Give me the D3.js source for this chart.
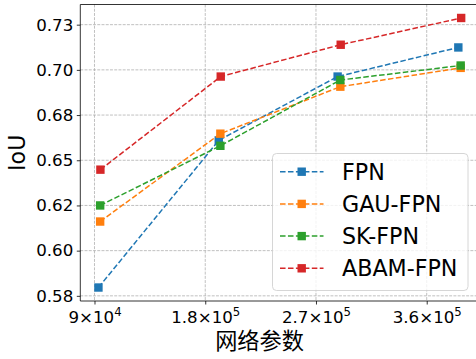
<!DOCTYPE html>
<html>
<head>
<meta charset="utf-8">
<script src="https://cdn.jsdelivr.net/npm/d3@7"></script>
<style>
  body { margin: 0; background: #fff; }
  svg { display: block; font-family: "DejaVu Sans", sans-serif; }
</style>
</head>
<body>
<div id="chart"></div>
<script>
// series names + colours (tab10)
const seriesNames = ['FPN', 'GAU-FPN', 'SK-FPN', 'ABAM-FPN'];
const seriesColors = ['#1f77b4', '#ff7f0e', '#2ca02c', '#d62728'];

// network parameters (x) per series
const fpnParams  = [93200, 191000, 287600, 385700];
const gauParams  = [94600, 192300, 289800, 387600];
const skParams   = [94600, 192300, 289800, 387600];
const abamParams = [94800, 192600, 290100, 388000];

// IoU (y) per series
const fpnIoU  = [0.5796, 0.6610, 0.6963, 0.7124];
const gauIoU  = [0.6161, 0.6647, 0.6907, 0.7011];
const skIoU   = [0.6250, 0.6580, 0.6944, 0.7024];
const abamIoU = [0.6448, 0.6963, 0.7139, 0.7287];

// ticks
const xTicks = [90000, 180000, 270000, 360000];
const yTicks = [0.575, 0.600, 0.625, 0.650, 0.675, 0.700, 0.725];
const yTickLabels = ['0.58', '0.60', '0.62', '0.65', '0.68', '0.70', '0.73'];

const xLabel = '网络参数';
const yLabel = 'IoU';

const W = 476, H = 359;
const margin = { top: 4.5, left: 80.3 };
const plotW = 399, plotH = 296.5;

const series = [
  { name: seriesNames[0], xs: fpnParams,  ys: fpnIoU },
  { name: seriesNames[1], xs: gauParams,  ys: gauIoU },
  { name: seriesNames[2], xs: skParams,   ys: skIoU },
  { name: seriesNames[3], xs: abamParams, ys: abamIoU }
].map((s, i) => ({ ...s, color: seriesColors[i], pts: s.xs.map((x, j) => [x, s.ys[j]]) }));

// matplotlib-like 5% padding
function padded(vals) {
  const [a, b] = d3.extent(vals);
  const p = (b - a) * 0.05;
  return [a - p, b + p];
}
const allX = series.flatMap(s => s.xs);
const allY = series.flatMap(s => s.ys);

const x = d3.scaleLinear().domain(padded(allX)).range([0, plotW]);
const y = d3.scaleLinear().domain(padded(allY)).range([plotH, 0]);

const svg = d3.select('#chart').append('svg')
  .attr('width', W).attr('height', H);

const g = svg.append('g')
  .attr('transform', `translate(${margin.left},${margin.top})`);

// grid
g.append('g').selectAll('line.gx').data(xTicks).enter().append('line')
  .attr('x1', d => x(d)).attr('x2', d => x(d))
  .attr('y1', 0).attr('y2', plotH)
  .attr('stroke', '#b0b0b0').attr('stroke-width', 0.8)
  .attr('stroke-dasharray', '2.96,1.28');
g.append('g').selectAll('line.gy').data(yTicks).enter().append('line')
  .attr('y1', d => y(d)).attr('y2', d => y(d))
  .attr('x1', 0).attr('x2', plotW)
  .attr('stroke', '#b0b0b0').attr('stroke-width', 0.8)
  .attr('stroke-dasharray', '2.96,1.28');

// series lines + markers
const line = d3.line().x(d => x(d[0])).y(d => y(d[1]));
series.forEach(s => {
  g.append('path')
    .attr('d', line(s.pts))
    .attr('fill', 'none')
    .attr('stroke', s.color)
    .attr('stroke-width', 1.5)
    .attr('stroke-dasharray', '5.55,2.4');
  g.selectAll(null).data(s.pts).enter().append('rect')
    .attr('x', d => x(d[0]) - 4.2)
    .attr('y', d => y(d[1]) - 4.2)
    .attr('width', 8.4).attr('height', 8.4)
    .attr('fill', s.color);
});

// spines
g.append('line').attr('x1', 0).attr('x2', plotW).attr('y1', 0).attr('y2', 0)
  .attr('stroke', '#000').attr('stroke-width', 0.8);
g.append('line').attr('x1', plotW).attr('x2', plotW).attr('y1', 0).attr('y2', plotH)
  .attr('stroke', '#000').attr('stroke-width', 0.8);

// axes
const yAxis = g.append('g')
  .call(d3.axisLeft(y).tickValues(yTicks).tickSize(3.5).tickPadding(3.5)
    .tickFormat((d, i) => yTickLabels[i]));
yAxis.select('.domain').attr('stroke-width', 0.8).attr('d', `M0,0V${plotH}`);
yAxis.selectAll('.tick line').attr('stroke-width', 0.8);
yAxis.selectAll('.tick text')
  .attr('font-family', 'DejaVu Sans').attr('font-size', 16.67).attr('fill', '#000');

const xAxis = g.append('g')
  .attr('transform', `translate(0,${plotH})`)
  .call(d3.axisBottom(x).tickValues(xTicks).tickSize(3.5).tickFormat(''));
xAxis.select('.domain').attr('stroke-width', 0.8).attr('d', `M0,0H${plotW}`);
xAxis.selectAll('.tick line').attr('stroke-width', 0.8);

// scientific tick labels like 1.8×10^5
xAxis.selectAll('.tick').each(function (d) {
  const e = Math.floor(Math.log10(d));
  const m = +(d / Math.pow(10, e)).toFixed(2);
  const t = d3.select(this).append('text')
    .attr('y', 21.5)
    .attr('text-anchor', 'middle')
    .attr('font-family', 'DejaVu Sans')
    .attr('font-size', 16.67)
    .attr('fill', '#000');
  t.append('tspan').text(`${m}×10`);
  t.append('tspan').attr('dy', -7).attr('font-size', 11.7).text(e);
});

// axis labels
svg.append('text')
  .attr('x', 259.5).attr('y', 349)
  .attr('text-anchor', 'middle')
  .attr('font-family', '"Noto Sans CJK SC", sans-serif')
  .attr('font-size', 22.2)
  .text(xLabel);

svg.append('text')
  .attr('transform', `translate(25,${margin.top + plotH / 2}) rotate(-90)`)
  .attr('text-anchor', 'middle')
  .attr('font-family', 'DejaVu Sans')
  .attr('font-size', 22.2)
  .text(yLabel);

// legend
const lg = svg.append('g').attr('transform', 'translate(272,153)');
lg.append('rect')
  .attr('x', 0.5).attr('y', 0.5).attr('width', 195.5).attr('height', 137)
  .attr('rx', 4).attr('ry', 4)
  .attr('fill', '#fff').attr('fill-opacity', 0.8)
  .attr('stroke', '#cccccc').attr('stroke-width', 0.8);

const rows = lg.selectAll('g.row').data(series).enter().append('g')
  .attr('transform', (d, i) => `translate(0,${18.7 + i * 32.2})`);
rows.append('line')
  .attr('x1', 8).attr('x2', 51.5).attr('y1', 0).attr('y2', 0)
  .attr('stroke', d => d.color).attr('stroke-width', 1.5)
  .attr('stroke-dasharray', '5.55,2.4');
rows.append('rect')
  .attr('x', 29.7 - 4.2).attr('y', -4.2).attr('width', 8.4).attr('height', 8.4)
  .attr('fill', d => d.color);
rows.append('text')
  .attr('x', 70).attr('y', 8)
  .attr('font-family', 'DejaVu Sans')
  .attr('font-size', 22.2)
  .attr('fill', '#000')
  .text(d => d.name);
</script>
</body>
</html>
